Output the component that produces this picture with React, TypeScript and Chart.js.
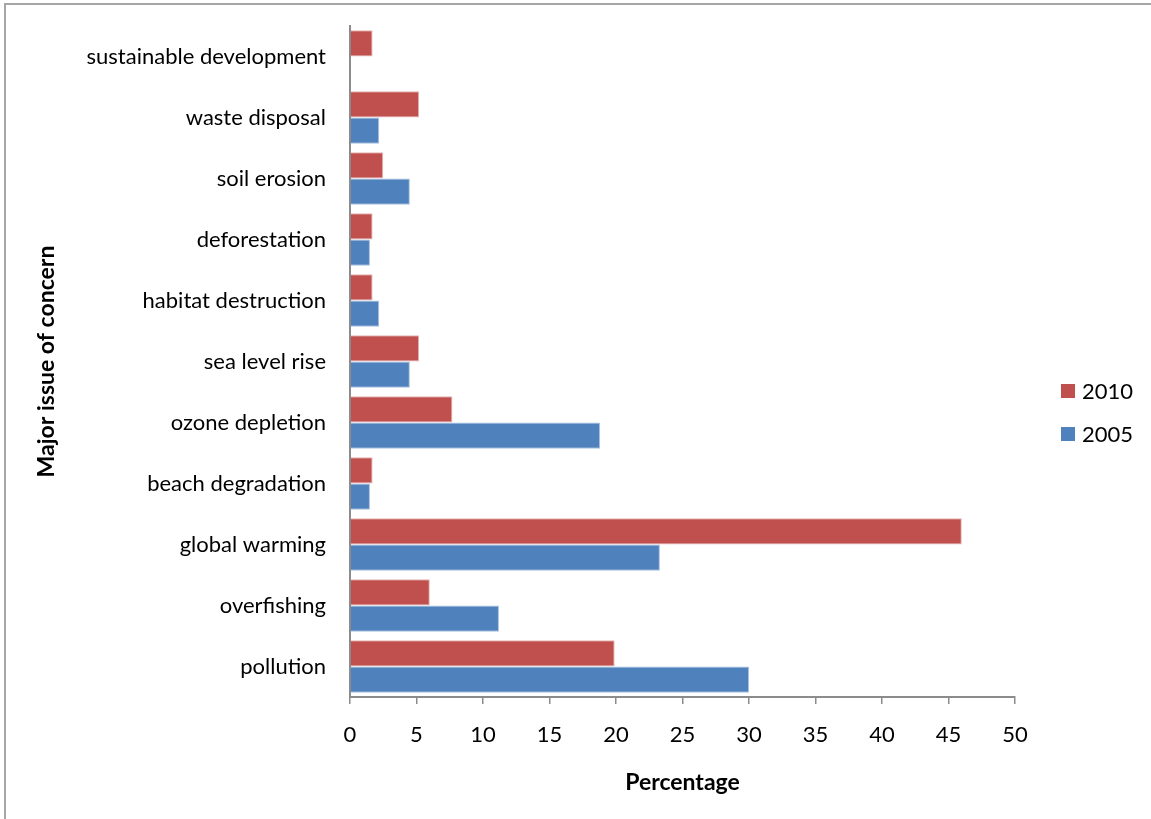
import React, { useEffect, useRef } from "react";
import { Chart, registerables } from "chart.js";

Chart.register(...registerables);

// Issues listed top to bottom on the category axis
const issues = [
  "sustainable development",
  "waste disposal",
  "soil erosion",
  "deforestation",
  "habitat destruction",
  "sea level rise",
  "ozone depletion",
  "beach degradation",
  "global warming",
  "overfishing",
  "pollution",
];

// Share of respondents (%) naming each issue
const share2010 = [1.7, 5.2, 2.5, 1.7, 1.7, 5.2, 7.7, 1.7, 46.0, 6.0, 19.9];
const share2005 = [0, 2.2, 4.5, 1.5, 2.2, 4.5, 18.8, 1.5, 23.3, 11.2, 30.0];

const seriesNames = ["2010", "2005"];
const seriesColors = ["#C0504D", "#4F81BD"];
const seriesEdges = ["#E3B5B4", "#A9C1E0"];

const FONT = "Lato, 'Open Sans', sans-serif";

// Square-marker legend drawn to the right of the plot
const sideLegend = {
  id: "sideLegend",
  afterDraw(chart: Chart) {
    const { ctx } = chart;
    const x = 1061;
    const rows = [391, 434];
    ctx.save();
    chart.data.datasets.forEach((ds: any, i: number) => {
      const cy = rows[i];
      ctx.fillStyle = ds.backgroundColor as string;
      ctx.fillRect(x, cy - 7, 14, 14);
      ctx.fillStyle = "#000";
      ctx.font = `22px ${FONT}`;
      ctx.textBaseline = "middle";
      ctx.textAlign = "left";
      ctx.fillText(ds.label, x + 21, cy + 1);
    });
    ctx.restore();
  },
};

export default function App() {
  const canvasRef = useRef<HTMLCanvasElement | null>(null);

  useEffect(() => {
    if (!canvasRef.current) return;
    const chart = new Chart(canvasRef.current, {
      type: "bar",
      data: {
        labels: issues,
        datasets: [
          {
            label: seriesNames[0],
            data: share2010,
            backgroundColor: seriesColors[0],
            borderColor: seriesEdges[0],
            borderWidth: 1,
          },
          {
            label: seriesNames[1],
            data: share2005,
            backgroundColor: seriesColors[1],
            borderColor: seriesEdges[1],
            borderWidth: 1,
          },
        ],
      },
      options: {
        indexAxis: "y",
        responsive: false,
        animation: false,
        maintainAspectRatio: false,
        datasets: {
          bar: { barPercentage: 1, categoryPercentage: 0.863 },
        },
        layout: { padding: { left: 10, top: 26, right: 136, bottom: 0 } },
        plugins: {
          legend: { display: false },
          tooltip: { enabled: false },
        },
        scales: {
          x: {
            min: 0,
            max: 50,
            ticks: {
              stepSize: 5,
              color: "#000",
              font: { family: FONT, size: 22 },
              padding: 18,
            },
            grid: {
              drawOnChartArea: false,
              drawTicks: true,
              tickLength: 7,
              color: "#8C8C8C",
              lineWidth: 1.5,
            },
            border: { color: "#8C8C8C", width: 2 },
            title: {
              display: true,
              text: "Percentage",
              color: "#000",
              font: { family: FONT, size: 23, weight: "bold" },
              padding: { top: 0, bottom: 23 },
            },
            afterFit(scale: any) {
              scale.height = 819 - 697;
            },
          },
          y: {
            ticks: {
              color: "#000",
              font: { family: FONT, size: 22 },
              padding: 24,
            },
            grid: { display: false, drawTicks: false },
            border: { color: "#8C8C8C", width: 2 },
            title: {
              display: true,
              text: "Major issue of concern",
              color: "#000",
              font: { family: FONT, size: 23, weight: "bold" },
              padding: { top: 23, bottom: 0 },
            },
            afterFit(scale: any) {
              scale.width = 350 - 10;
              // keep the plot top flush with the layout padding
              scale.paddingTop = 0;
              scale.paddingBottom = 0;
            },
          },
        },
      },
      plugins: [sideLegend],
    });
    return () => chart.destroy();
  }, []);

  return (
    <div
      style={{
        position: "fixed",
        left: 0,
        top: 0,
        width: 1151,
        height: 819,
        background: "#fff",
        overflow: "hidden",
      }}
    >
      <div
        style={{
          position: "absolute",
          left: 4,
          top: 3,
          width: 1200,
          height: 900,
          borderLeft: "2px solid #A6A6A6",
          borderTop: "2px solid #A6A6A6",
        }}
      />
      <canvas
        ref={canvasRef}
        width={1151}
        height={819}
        style={{ position: "absolute", left: 0, top: 0 }}
      />
    </div>
  );
}
